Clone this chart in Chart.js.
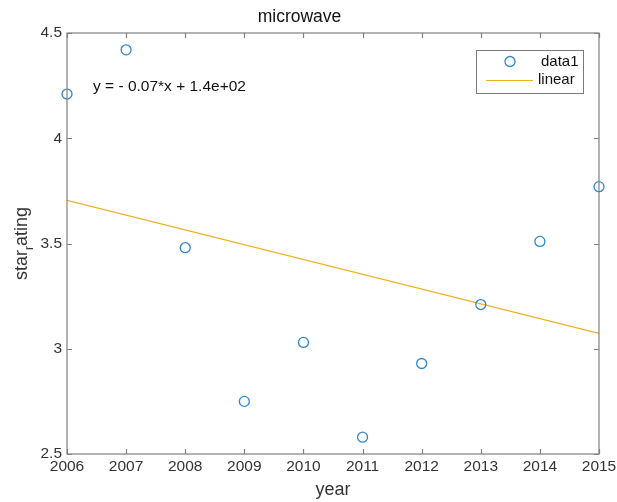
<!DOCTYPE html>
<html><head><meta charset="utf-8">
<script src="https://cdn.jsdelivr.net/npm/chart.js@4"></script>
<style>html,body{margin:0;padding:0;background:#fff}#wrap{width:617px;height:502px}</style>
</head><body><div id="wrap"><canvas id="c" width="617" height="502"></canvas></div>
<script>
const years = [2006, 2007, 2008, 2009, 2010, 2011, 2012, 2013, 2014, 2015];
const ratings = [4.21, 4.42, 3.48, 2.75, 3.03, 2.58, 2.93, 3.21, 3.51, 3.77];
const fitYears = [2006, 2015];
const fitValues = [3.705, 3.073];
const xTicks = [2006, 2007, 2008, 2009, 2010, 2011, 2012, 2013, 2014, 2015];
const yTicks = [2.5, 3, 3.5, 4, 4.5];
const titleText = 'microwave';
const xLabel = 'year';
const equationText = 'y = - 0.07*x + 1.4e+02';
const legendLabels = ['data1', 'linear'];

const FONT = 'Liberation Sans, Arial, sans-serif';
const BLUE = '#2f87cc';
const YELLOW = '#EDB120';
const AXIS = '#808080';
const TXT = '#333333';

const decor = {
  id: 'decor',
  afterDraw(chart) {
    const ctx = chart.ctx, a = chart.chartArea;
    const xs = chart.scales.x, ys = chart.scales.y;
    ctx.save();
    // box
    ctx.strokeStyle = AXIS; ctx.lineWidth = 1.2;
    ctx.strokeRect(a.left, a.top, a.right - a.left, a.bottom - a.top);
    // inward ticks
    ctx.beginPath();
    xTicks.forEach(v => {
      const p = Math.round(xs.getPixelForValue(v)) + 0.5;
      ctx.moveTo(p, a.bottom); ctx.lineTo(p, a.bottom - 5);
      ctx.moveTo(p, a.top); ctx.lineTo(p, a.top + 5);
    });
    yTicks.forEach(v => {
      const p = Math.round(ys.getPixelForValue(v)) + 0.5;
      ctx.moveTo(a.left, p); ctx.lineTo(a.left + 5, p);
      ctx.moveTo(a.right, p); ctx.lineTo(a.right - 5, p);
    });
    ctx.stroke();
    // x label
    ctx.fillStyle = TXT;
    ctx.font = '18px ' + FONT;
    ctx.textAlign = 'center'; ctx.textBaseline = 'middle';
    ctx.fillText(xLabel, (a.left + a.right) / 2, 490);
    // y label with subscript r
    ctx.save();
    ctx.translate(22, (a.top + a.bottom) / 2);
    ctx.rotate(-Math.PI / 2);
    const p1 = 'star', p3 = 'ating';
    ctx.font = '18px ' + FONT; const w1 = ctx.measureText(p1).width, w3 = ctx.measureText(p3).width;
    ctx.font = '12px ' + FONT; const w2 = ctx.measureText('r').width;
    let x0 = -(w1 + w2 + w3) / 2;
    ctx.textAlign = 'left';
    ctx.font = '18px ' + FONT; ctx.fillText(p1, x0, 0);
    ctx.font = '12px ' + FONT; ctx.fillText('r', x0 + w1, 8);
    ctx.font = '18px ' + FONT; ctx.fillText(p3, x0 + w1 + w2, 0);
    ctx.restore();
    // equation
    ctx.fillStyle = '#111';
    ctx.font = '15.5px ' + FONT;
    ctx.textAlign = 'left'; ctx.textBaseline = 'middle';
    ctx.fillText(equationText, 93, 87);
    // legend
    ctx.fillStyle = '#fff';
    ctx.fillRect(476, 50, 107, 43);
    ctx.strokeStyle = '#7a7a7a'; ctx.lineWidth = 1;
    ctx.strokeRect(476.5, 50.5, 107, 43);
    ctx.strokeStyle = BLUE; ctx.lineWidth = 1.3;
    ctx.beginPath(); ctx.arc(510, 61.5, 5, 0, Math.PI * 2); ctx.stroke();
    ctx.strokeStyle = YELLOW; ctx.lineWidth = 1;
    ctx.beginPath(); ctx.moveTo(486, 80.5); ctx.lineTo(533, 80.5); ctx.stroke();
    ctx.fillStyle = '#111'; ctx.font = '15px ' + FONT;
    ctx.fillText(legendLabels[0], 541, 62);
    ctx.fillText(legendLabels[1], 538, 80);
    ctx.restore();
  }
};

new Chart(document.getElementById('c'), {
  type: 'scatter',
  data: {
    datasets: [
      {
        label: legendLabels[0],
        data: years.map((y, i) => ({ x: y, y: ratings[i] })),
        showLine: false,
        clip: false,
        pointStyle: 'circle',
        pointRadius: 5,
        pointBorderWidth: 1.3,
        pointBorderColor: BLUE,
        pointBackgroundColor: 'rgba(0,0,0,0)'
      },
      {
        label: legendLabels[1],
        data: fitYears.map((y, i) => ({ x: y, y: fitValues[i] })),
        showLine: true,
        borderColor: YELLOW,
        borderWidth: 1.2,
        pointRadius: 0,
        fill: false
      }
    ]
  },
  options: {
    responsive: false,
    animation: false,
    devicePixelRatio: 1,
    layout: { padding: { left: 0, right: 18, top: 0, bottom: 0 } },
    plugins: {
      legend: { display: false },
      tooltip: { enabled: false },
      title: {
        display: true, text: titleText, color: '#111',
        font: { family: FONT, size: 17.5, weight: 'normal' },
        padding: { top: 7, bottom: 5 }
      }
    },
    scales: {
      x: {
        type: 'linear', min: 2006, max: 2015,
        afterBuildTicks: s => { s.ticks = xTicks.map(v => ({ value: v })); },
        afterFit: s => { s.height = 48; s.paddingLeft = 0; s.paddingRight = 0; },
        grid: { display: false, drawTicks: false },
        border: { display: false },
        ticks: { color: TXT, font: { family: FONT, size: 15.5 }, padding: 3, maxRotation: 0, autoSkip: false, callback: v => String(v) }
      },
      y: {
        type: 'linear', min: 2.5, max: 4.5,
        afterBuildTicks: s => { s.ticks = yTicks.map(v => ({ value: v })); },
        afterFit: s => { s.width = 67; s.paddingTop = 0; s.paddingBottom = 0; },
        grid: { display: false, drawTicks: false },
        border: { display: false },
        ticks: { color: TXT, font: { family: FONT, size: 15.5 }, padding: 5, callback: v => String(v) }
      }
    }
  },
  plugins: [decor]
});
</script>
</body></html>
